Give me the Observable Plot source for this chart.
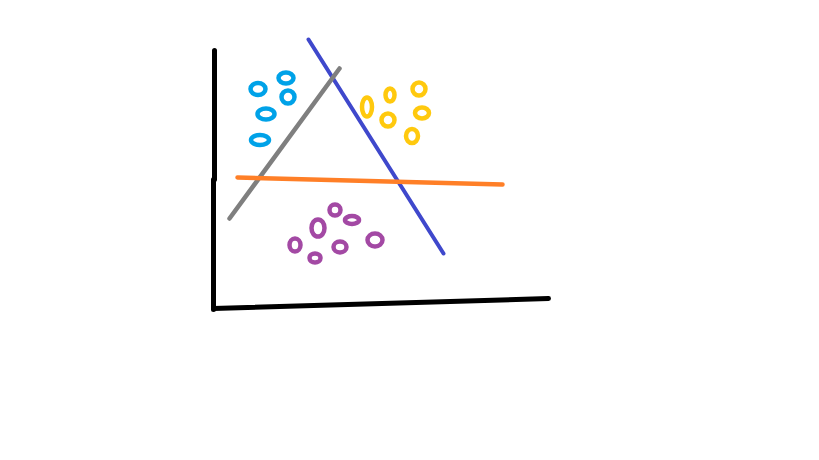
<!DOCTYPE html>
<html>
<head>
<meta charset="utf-8">
<script src="https://cdn.jsdelivr.net/npm/d3@7"></script>
<script src="https://cdn.jsdelivr.net/npm/@observablehq/plot@0.6"></script>
<style>
  body { margin: 0; background: #fff; }
</style>
</head>
<body>
<div id="chart"></div>
<script>
// sketch units: x to the right, y upwards
const groups = ["cyan", "yellow", "purple"];
const ringX = [258, 286, 288, 266, 260, 367, 390, 419, 388, 422, 412, 335, 352, 318, 295, 340, 315, 375];
const ringY = [371, 382, 363, 346, 320, 353, 365, 371, 340, 347, 324, 250, 240, 232, 215, 213, 202, 220];
const ringRx = [7.5, 7.5, 6.5, 8.5, 9, 5, 4.5, 6.5, 6.5, 7, 6, 5.5, 7, 6.5, 5.5, 6.5, 5.5, 7.5];
const ringRy = [6, 5.5, 6.5, 5.5, 5, 9.5, 6.5, 6.5, 6.5, 5.5, 7, 5.5, 4, 8.5, 6.5, 5.5, 4.5, 6.5];
const ringGroup = [0, 0, 0, 0, 0, 1, 1, 1, 1, 1, 1, 2, 2, 2, 2, 2, 2, 2];

const lineNames = ["axisTop", "axisLow", "axisX", "blue", "gray", "orange"];
const lineX1 = [214, 213, 213, 308, 339, 237];
const lineY1 = [410, 281, 152, 421, 392, 283];
const lineX2 = [214, 213, 548, 443, 229, 502];
const lineY2 = [281, 151, 162, 207, 242, 276];

const colors = {
  cyan: "#00a2e8", yellow: "#ffc90e", purple: "#a349a4",
  axisTop: "#000", axisLow: "#000", axisX: "#000",
  blue: "#3f48cc", gray: "#7f7f7f", orange: "#ff7f27"
};
const widths = {axisTop: 5, axisLow: 5, axisX: 5, blue: 4, gray: 4.5, orange: 4.5};

const rings = ringX.map((x, i) => ({
  x, y: ringY[i], rx: ringRx[i], ry: ringRy[i], group: groups[ringGroup[i]]
}));
const lines = lineNames.map((name, i) => ({
  name, x1: lineX1[i], y1: lineY1[i], x2: lineX2[i], y2: lineY2[i]
}));

const chart = Plot.plot({
  width: 819,
  height: 460,
  margin: 0,
  x: {domain: [0, 819], axis: null},
  y: {domain: [0, 460], axis: null},
  marks: [
    Plot.link(lines, {
      x1: "x1", y1: "y1", x2: "x2", y2: "y2",
      stroke: (d) => colors[d.name],
      strokeWidth: (d) => widths[d.name],
      strokeLinecap: "round"
    }),
    Plot.dot(rings, {
      x: "x",
      y: "y",
      render(index, scales, values) {
        const g = d3.create("svg:g");
        g.selectAll("ellipse")
          .data(index)
          .join("ellipse")
          .attr("cx", (i) => values.x[i])
          .attr("cy", (i) => values.y[i])
          .attr("rx", (i) => Math.abs(scales.x(rings[i].x + rings[i].rx) - scales.x(rings[i].x)))
          .attr("ry", (i) => Math.abs(scales.y(rings[i].y + rings[i].ry) - scales.y(rings[i].y)))
          .attr("fill", "none")
          .attr("stroke", (i) => colors[rings[i].group])
          .attr("stroke-width", 4.5);
        return g.node();
      }
    })
  ]
});

d3.select("#chart").append(() => chart);
</script>
</body>
</html>
